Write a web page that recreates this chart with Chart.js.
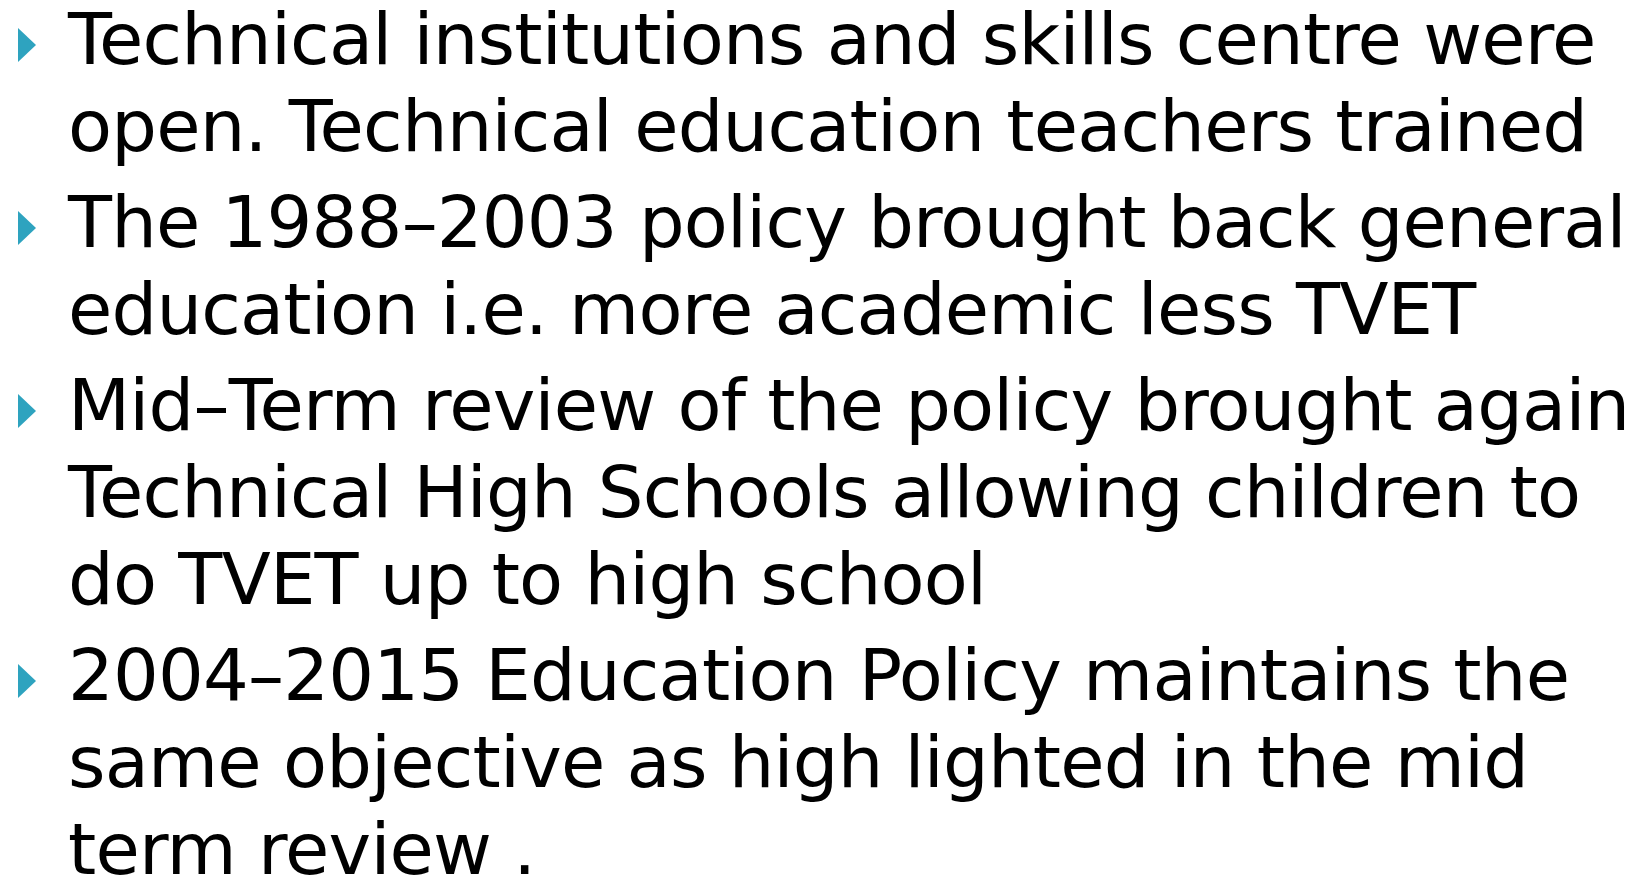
<!DOCTYPE html>
<html>
<head>
<meta charset="utf-8">
<title>TVET policy slide</title>
<script src="https://cdn.jsdelivr.net/npm/chart.js@4.4.1/dist/chart.umd.min.js"></script>
<style>
    html, body {
        margin: 0;
        padding: 0;
        background: #ffffff;
        width: 1648px;
        height: 876px;
        overflow: hidden;
    }
    #bullets {
        position: absolute;
        left: 0;
        top: 0;
    }
    #slide {
        position: absolute;
        left: 68px;
        top: -4px;
        margin: 0;
        padding: 0;
        list-style: none;
        font-family: "DejaVu Sans", sans-serif;
        font-size: 72px;
        letter-spacing: -0.8px;
        line-height: 87px;
        color: #000000;
        white-space: nowrap;
    }
    #slide li { margin: 0 0 9px 0; }
    #slide .line { display: block; }
    .base { display: inline-block; width: 0; height: 0; vertical-align: baseline; }
</style>
</head>
<body>
<canvas id="bullets" width="1648" height="876"></canvas>
<ul id="slide"></ul>
<script>
// Slide text, one array per bullet, one entry per wrapped line
const point1Lines = ['Technical institutions and skills centre were', 'open. Technical education teachers trained'];
const point2Lines = ['The 1988–2003 policy brought back general', 'education i.e. more academic less TVET'];
const point3Lines = ['Mid–Term review of the policy brought again', 'Technical High Schools allowing children to', 'do TVET up to high school'];
const point4Lines = ['2004–2015 Education Policy maintains the', 'same objective as high lighted in the mid', 'term review .'];
const bulletPoints = [point1Lines, point2Lines, point3Lines, point4Lines];

const BULLET_COLOR = '#2ea3bf';

// Build the text list
const list = document.getElementById('slide');
bulletPoints.forEach(lines => {
    const li = document.createElement('li');
    lines.forEach((text, i) => {
        const span = document.createElement('span');
        span.className = 'line';
        if (i === 0) {
            const base = document.createElement('span');
            base.className = 'base';
            span.appendChild(base);
        }
        span.appendChild(document.createTextNode(text));
        li.appendChild(span);
    });
    list.appendChild(li);
});

// Triangle marker used as the bullet glyph
function makeTriangle() {
    const c = document.createElement('canvas');
    c.width = 18;
    c.height = 34;
    const g = c.getContext('2d');
    g.fillStyle = BULLET_COLOR;
    g.beginPath();
    g.moveTo(0, 0);
    g.lineTo(18, 17);
    g.lineTo(0, 34);
    g.closePath();
    g.fill();
    return c;
}

// Bullet positions come from the laid-out text (baseline of each first line)
const bulletData = Array.from(document.querySelectorAll('#slide .base')).map(el => {
    const r = el.getBoundingClientRect();
    return { x: 27, y: r.top - 19 };
});

const canvas = document.getElementById('bullets');
new Chart(canvas.getContext('2d'), {
    type: 'scatter',
    data: {
        datasets: [{
            label: 'Bullets',
            data: bulletData,
            pointStyle: makeTriangle(),
            pointRadius: 10,
            backgroundColor: BULLET_COLOR,
            borderWidth: 0,
            clip: false
        }]
    },
    options: {
        responsive: false,
        animation: false,
        layout: { padding: 0, autoPadding: false },
        scales: {
            x: { type: 'linear', min: 0, max: 1648, display: false },
            y: { type: 'linear', min: 0, max: 876, reverse: true, display: false }
        },
        plugins: {
            legend: { display: false },
            tooltip: { enabled: false }
        }
    }
});
</script>
</body>
</html>
